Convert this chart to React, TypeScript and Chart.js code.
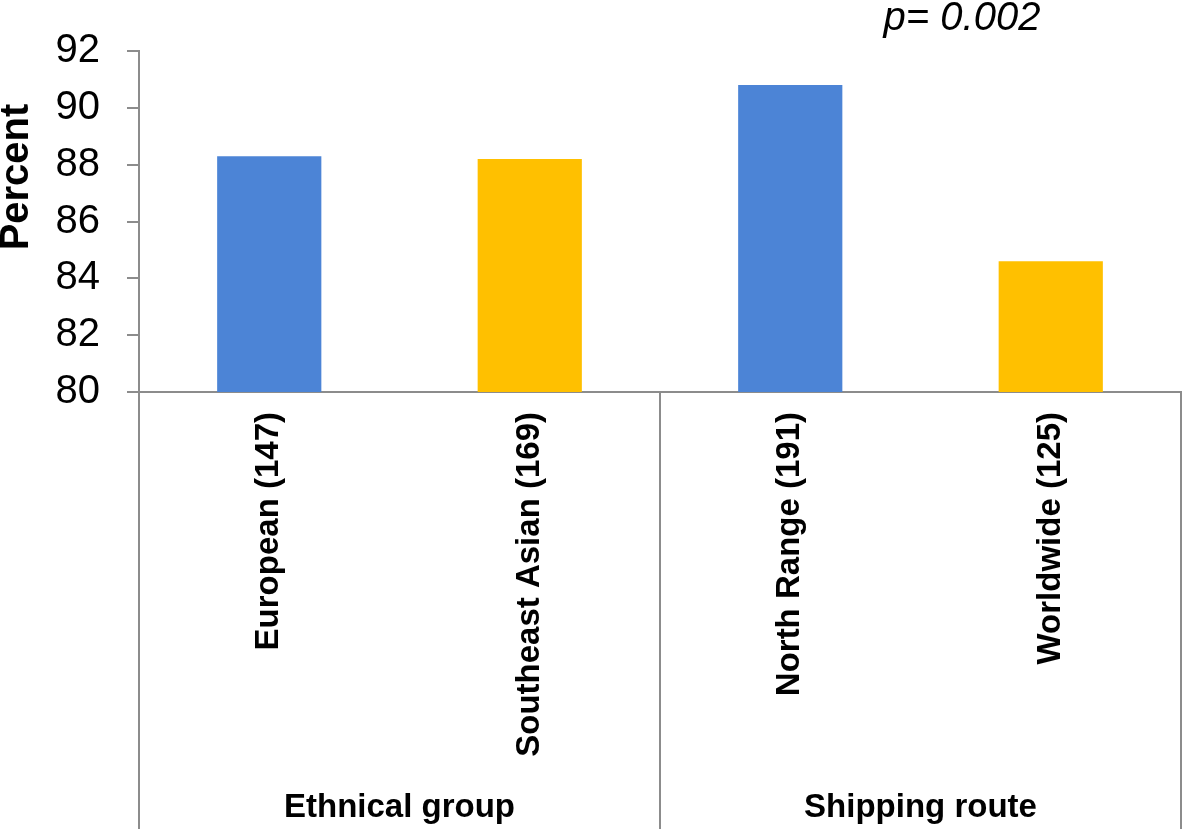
import React, { useEffect, useRef } from "react";
import { Chart, registerables } from "chart.js";

Chart.register(...registerables);

const categories = ["European (147)", "Southeast Asian (169)", "North Range (191)", "Worldwide (125)"];
const values = [88.3, 88.2, 90.8, 84.6];
const barColors = ["#4C84D6", "#FFC000", "#4C84D6", "#FFC000"];
const groupNames = ["Ethnical group", "Shipping route"];
const groupSizes = [2, 2];
const yTicks = [80, 82, 84, 86, 88, 90, 92];
const yTitle = "Percent";
const annotation = "p= 0.002";

const FONT = "'Liberation Sans', Arial, Helvetica, sans-serif";
const GRAY = "#8C8C8C";

const extrasPlugin = {
  id: "extras",
  afterDraw(chart: any) {
    const ctx = chart.ctx;
    const xs = chart.scales.x;
    const ca = chart.chartArea;
    const H = chart.height;
    ctx.save();
    // group separators
    const bounds: number[] = [xs.left];
    let idx = 0;
    groupSizes.forEach((n) => {
      idx += n;
      if (idx < categories.length) {
        bounds.push((xs.getPixelForTick(idx - 1) + xs.getPixelForTick(idx)) / 2);
      } else {
        bounds.push(xs.right);
      }
    });
    ctx.strokeStyle = GRAY;
    ctx.lineWidth = 2;
    bounds.forEach((bx) => {
      ctx.beginPath();
      ctx.moveTo(bx, ca.bottom);
      ctx.lineTo(bx, H);
      ctx.stroke();
    });
    // group labels
    ctx.fillStyle = "#000";
    ctx.font = `bold 33px ${FONT}`;
    ctx.textAlign = "center";
    ctx.textBaseline = "middle";
    groupNames.forEach((g, i) => {
      ctx.fillText(g, (bounds[i] + bounds[i + 1]) / 2, 808);
    });
    // y title
    ctx.save();
    ctx.translate(17, 177);
    ctx.rotate(-Math.PI / 2);
    ctx.font = `bold 40px ${FONT}`;
    ctx.textAlign = "center";
    ctx.textBaseline = "middle";
    ctx.fillText(yTitle, 0, 0);
    ctx.restore();
    // annotation
    ctx.font = `italic 40px ${FONT}`;
    ctx.textAlign = "center";
    ctx.textBaseline = "alphabetic";
    ctx.fillText(annotation, 962, 30);
    ctx.restore();
  },
};

export default function App() {
  const ref = useRef<HTMLCanvasElement>(null);
  useEffect(() => {
    document.body.style.margin = "0";
    const chart = new Chart(ref.current!, {
      type: "bar",
      data: {
        labels: categories,
        datasets: [
          {
            data: values,
            backgroundColor: barColors,
            borderWidth: 0,
            barPercentage: 0.4,
            categoryPercentage: 1,
          },
        ],
      },
      options: {
        animation: false,
        responsive: false,
        layout: { padding: { top: 48, right: 2, left: 0, bottom: 0 } },
        plugins: { legend: { display: false }, tooltip: { enabled: false } },
        scales: {
          x: {
            afterFit: (s: any) => {
              s.height = 829 - 392 - 48 + 48;
              s.height = 437;
            },
            grid: { display: false, drawTicks: false },
            border: { display: true, color: GRAY, width: 2 },
            ticks: {
              color: "#000",
              font: { family: FONT, size: 33, weight: "bold" },
              minRotation: 90,
              maxRotation: 90,
              autoSkip: false,
              padding: 20,
            },
          },
          y: {
            min: 80,
            max: 92,
            afterFit: (s: any) => {
              s.width = 139;
            },
            afterBuildTicks: (s: any) => {
              s.ticks = yTicks.map((v) => ({ value: v }));
            },
            grid: {
              drawOnChartArea: false,
              drawTicks: true,
              tickLength: 12,
              color: GRAY,
              lineWidth: 2,
            },
            border: { display: true, color: GRAY, width: 2 },
            ticks: {
              color: "#000",
              font: { family: FONT, size: 40 },
              padding: 27,
            },
          },
        },
      },
      plugins: [extrasPlugin],
    } as any);
    return () => chart.destroy();
  }, []);
  return (
    <div style={{ width: 1183, height: 829 }}>
      <canvas ref={ref} width={1183} height={829} />
    </div>
  );
}
